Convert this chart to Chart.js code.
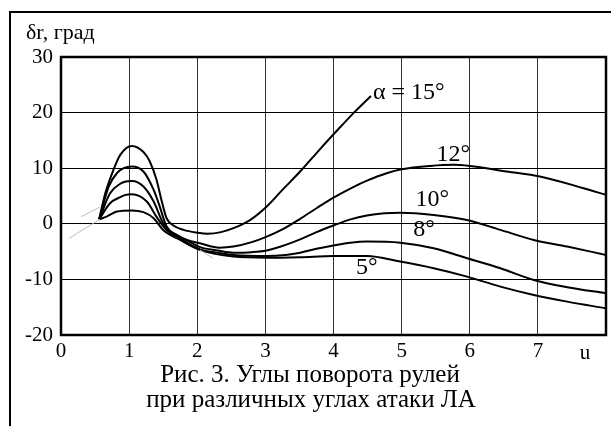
<!DOCTYPE html>
<html>
<head>
<meta charset="utf-8">
<script src="https://cdn.jsdelivr.net/npm/chart.js@4"></script>
<style>
  body { margin: 0; background: #fff; }
</style>
</head>
<body>
<canvas id="chart1" width="611" height="426"></canvas>
<script>
// curves for different angles of attack, x = u, y = δr (deg)
const x15 = [0.56, 0.65, 0.77, 0.87, 1.04, 1.21, 1.30, 1.40, 1.48, 1.55, 1.65, 1.80, 2.00, 2.15, 2.35, 2.55, 2.78, 3.02, 3.25, 3.51, 3.80, 4.10, 4.30, 4.55];
const y15 = [0.8, 5.5, 9.7, 12.4, 14.0, 12.9, 11.3, 8.0, 4.0, 1.0, -0.3, -1.1, -1.6, -1.8, -1.5, -0.7, 0.7, 3.1, 6.1, 9.4, 13.4, 17.4, 20.0, 23.0];

const x12 = [0.56, 0.70, 0.82, 0.92, 1.04, 1.21, 1.36, 1.45, 1.55, 1.70, 1.85, 2.04, 2.33, 2.53, 2.80, 3.02, 3.25, 3.51, 3.75, 4.00, 4.29, 4.50, 4.78, 5.00, 5.42, 5.76, 6.00, 6.54, 7.03, 7.67, 8.00];
const y12 = [0.8, 6.7, 9.1, 10.0, 10.3, 9.4, 6.1, 3.1, -0.5, -2.0, -2.9, -3.5, -4.3, -4.1, -3.3, -2.3, -1.0, 0.9, 2.8, 4.7, 6.6, 7.8, 9.1, 9.8, 10.4, 10.6, 10.4, 9.4, 8.5, 6.4, 5.2];

const x10 = [0.56, 0.72, 0.87, 0.95, 1.04, 1.21, 1.36, 1.50, 1.65, 1.85, 2.04, 2.30, 2.53, 2.80, 3.02, 3.25, 3.51, 3.75, 4.00, 4.25, 4.49, 4.75, 4.98, 5.47, 5.96, 6.45, 6.94, 7.43, 8.00];
const y10 = [0.8, 5.5, 7.2, 7.6, 7.7, 6.7, 4.0, 0.1, -1.9, -3.0, -4.2, -4.8, -5.2, -5.1, -4.8, -4.0, -2.8, -1.5, -0.3, 0.8, 1.5, 1.9, 2.0, 1.6, 0.7, -1.1, -2.9, -4.1, -5.6];

const x8 = [0.56, 0.72, 0.87, 0.95, 1.04, 1.26, 1.40, 1.55, 1.75, 2.04, 2.30, 2.53, 3.02, 3.30, 3.51, 3.75, 4.00, 4.25, 4.49, 4.98, 5.47, 5.96, 6.45, 6.94, 7.43, 8.00];
const y8 = [0.8, 3.7, 4.8, 5.2, 5.3, 4.0, 1.3, -1.1, -2.7, -4.6, -5.2, -5.6, -5.8, -5.6, -5.2, -4.5, -3.9, -3.4, -3.2, -3.4, -4.4, -6.2, -8.0, -10.1, -11.4, -12.5];

const x5 = [0.56, 0.67, 0.82, 1.04, 1.21, 1.36, 1.50, 1.75, 2.04, 2.53, 3.02, 3.51, 4.00, 4.49, 4.98, 5.47, 5.96, 6.45, 6.94, 7.43, 8.00];
const y5 = [0.8, 1.3, 2.2, 2.4, 2.1, 1.0, -1.1, -2.9, -4.7, -5.9, -6.1, -6.0, -5.8, -5.8, -6.8, -8.0, -9.5, -11.3, -12.8, -14.0, -15.2];

// thin grey construction lines
const xGrayA = [0.12, 0.57];
const yGrayA = [-2.6, 0.8];
const xGrayB = [0.30, 0.57];
const yGrayB = [1.3, 3.0];
const xGrayC = [2.04, 2.23];
const yGrayC = [-4.7, -6.2];

const xTicks = [0, 1, 2, 3, 4, 5, 6, 7];
const yTicks = [-20, -10, 0, 10, 20, 30];

// curve labels: text, x, y (data units)
const curveLabels = [
  ['α = 15°', 4.58, 23.5, 'left'],
  ['12°', 5.76, 12.4, 'center'],
  ['10°', 5.45, 4.3, 'center'],
  ['8°', 5.33, -1.1, 'center'],
  ['5°', 4.49, -7.9, 'center']
];

const serif = '"Liberation Serif", "Times New Roman", serif';

function pts(xs, ys) {
  return xs.map((x, i) => ({ x: x, y: ys[i] }));
}

function curve(xs, ys) {
  return {
    data: pts(xs, ys),
    borderColor: '#000',
    borderWidth: 2,
    pointRadius: 0,
    fill: false,
    cubicInterpolationMode: 'monotone'
  };
}

function grayLine(xs, ys) {
  return {
    data: pts(xs, ys),
    borderColor: '#bdbdbd',
    borderWidth: 1,
    pointRadius: 0,
    fill: false
  };
}

const decor = {
  id: 'decor',
  afterDraw(chart) {
    const c = chart.ctx;
    const a = chart.chartArea;
    const xs = chart.scales.x;
    const ys = chart.scales.y;
    c.save();
    // outer frame
    c.strokeStyle = '#000';
    c.lineWidth = 2;
    c.beginPath();
    c.moveTo(10, 426);
    c.lineTo(10, 12);
    c.lineTo(611, 12);
    c.stroke();
    // plot frame
    c.lineWidth = 2.5;
    c.strokeRect(a.left, a.top, a.right - a.left, a.bottom - a.top);

    c.fillStyle = '#000';
    c.textBaseline = 'middle';
    c.font = '22px ' + serif;
    c.textAlign = 'left';
    c.fillText('δr, град', 26, 33);

    c.font = '21px ' + serif;
    c.textAlign = 'center';
    c.fillText('u', 585, 353);

    c.font = '25px ' + serif;
    c.fillText('Рис. 3. Углы поворота рулей', 310, 375);
    c.fillText('при различных углах атаки ЛА', 311, 400);

    c.font = '24px ' + serif;
    curveLabels.forEach(l => {
      c.textAlign = l[3];
      c.fillText(l[0], xs.getPixelForValue(l[1]), ys.getPixelForValue(l[2]));
    });
    c.restore();
  }
};

new Chart(document.getElementById('chart1'), {
  type: 'line',
  data: {
    datasets: [
      grayLine(xGrayA, yGrayA),
      grayLine(xGrayB, yGrayB),
      grayLine(xGrayC, yGrayC),
      curve(x15, y15),
      curve(x12, y12),
      curve(x10, y10),
      curve(x8, y8),
      curve(x5, y5)
    ]
  },
  options: {
    responsive: false,
    animation: false,
    layout: {
      padding: { left: 10, right: 5, top: 57, bottom: 61 }
    },
    plugins: {
      legend: { display: false },
      tooltip: { enabled: false }
    },
    scales: {
      x: {
        type: 'linear',
        min: 0,
        max: 8,
        afterBuildTicks: s => { s.ticks = xTicks.concat([8]).map(v => ({ value: v })); },
        afterFit: s => { s.height = 30; },
        ticks: {
          callback: v => (v === 8 ? '' : v),
          color: '#000',
          font: { family: serif, size: 21 },
          padding: 4,
          maxRotation: 0,
          autoSkip: false
        },
        grid: { color: '#333', lineWidth: 1, drawTicks: false },
        border: { display: false }
      },
      y: {
        min: -20,
        max: 30,
        afterBuildTicks: s => { s.ticks = yTicks.map(v => ({ value: v })); },
        afterFit: s => { s.width = 51; },
        ticks: {
          color: '#000',
          font: { family: serif, size: 21 },
          padding: 8
        },
        grid: { color: '#000', lineWidth: 1, drawTicks: false },
        border: { display: false }
      }
    }
  },
  plugins: [decor]
});
</script>
</body>
</html>
